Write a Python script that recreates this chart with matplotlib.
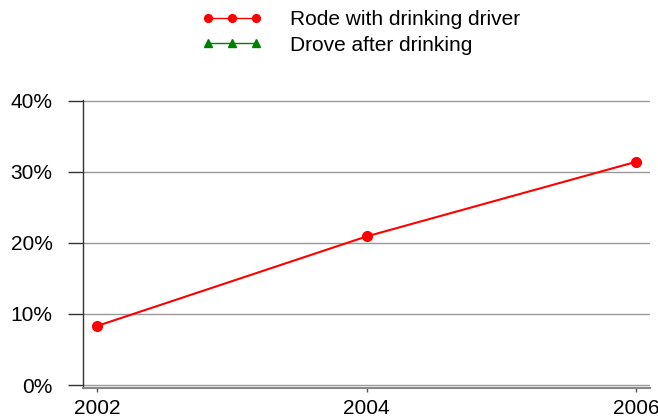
import matplotlib.pyplot as plt
import numpy as np

plt.rcParams['font.family'] = ['Liberation Sans', 'DejaVu Sans']

years = [2002, 2004, 2006]
rode_with_drinking_driver = [8.3, 20.9, 31.4]
drove_after_drinking = [np.nan, np.nan, np.nan]
y_ticks = [0, 10, 20, 30, 40]
y_tick_labels = ['0%', '10%', '20%', '30%', '40%']

fig = plt.figure(figsize=(6.58, 4.17), dpi=100)
ax = fig.add_axes((83/658, 1 - 388/417, 567/658, 288/417))

ax.plot(years, rode_with_drinking_driver, color='red', linewidth=1.5,
        marker='o', markersize=7, label='Rode with drinking driver')
ax.plot(years, drove_after_drinking, color='green', linewidth=1.5,
        marker='^', markersize=7, label='Drove after drinking')

ax.set_xlim(2001.896, 2006.104)
ax.set_ylim(-0.42, 40.1)
ax.set_xticks(years)
ax.set_xticklabels([str(y) for y in years])
ax.set_yticks(y_ticks)
ax.set_yticklabels(y_tick_labels)

ax.yaxis.grid(True, color='#999999', linewidth=1)
ax.set_axisbelow(True)

for side in ('top', 'right'):
    ax.spines[side].set_visible(False)
ax.spines['left'].set_color('#333333')
ax.spines['left'].set_linewidth(1)
ax.spines['bottom'].set_color('#888888')
ax.spines['bottom'].set_linewidth(1.5)

ax.tick_params(axis='y', length=11, width=1, color='#333333', pad=11,
               labelsize=15)
ax.tick_params(axis='x', length=3, width=1, color='#555555', pad=5,
               labelsize=15)

leg = fig.legend(loc='upper center', bbox_to_anchor=(0.549, 1.0),
                 frameon=False, fontsize=15, numpoints=3, handlelength=2.9,
                 handletextpad=1.35, labelspacing=0.3, borderaxespad=0.1,
                 markerscale=0.8)
for line in leg.get_lines():
    line.set_linewidth(1)

fig.savefig('out.png', dpi=100)
